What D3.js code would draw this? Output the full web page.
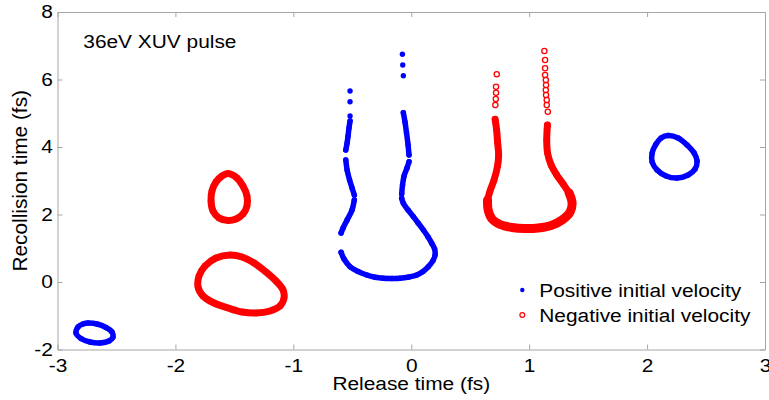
<!DOCTYPE html>
<html>
<head>
<meta charset="utf-8">
<script src="https://cdn.jsdelivr.net/npm/d3@7"></script>
<style>
  body { margin: 0; background: #fff; }
  svg { display: block; font-family: "Liberation Sans", Arial, sans-serif; }
</style>
</head>
<body>
<svg width="769" height="400"></svg>
<script>
// ---- data (release time fs, recollision time fs) ----
const xTicks = [-3, -2, -1, 0, 1, 2, 3];
const yTicks = [-2, 0, 2, 4, 6, 8];

// positive initial velocity (blue dots)
const posLoopLeft = [
    [-2.741, -1.215], [-2.665, -1.244], [-2.589, -1.348], [-2.538, -1.481], [-2.529, -1.630],
    [-2.563, -1.748], [-2.640, -1.807], [-2.724, -1.778], [-2.801, -1.674], [-2.843, -1.511],
    [-2.826, -1.333], [-2.784, -1.244]
];
const posLoopRight = [
    [2.178, 4.341], [2.263, 4.267], [2.339, 4.059], [2.399, 3.822], [2.424, 3.585],
    [2.407, 3.348], [2.348, 3.170], [2.255, 3.081], [2.161, 3.141], [2.085, 3.319],
    [2.043, 3.556], [2.043, 3.822], [2.076, 4.089], [2.119, 4.267]
];
const posU1 = [[-0.519, 4.770], [-0.528, 4.563], [-0.536, 4.326], [-0.544, 4.119], [-0.555, 3.911]];
const posU2 = [[-0.555, 3.615], [-0.544, 3.319], [-0.523, 3.022], [-0.502, 2.785], [-0.483, 2.578]];
const posU3 = [[-0.483, 2.430], [-0.502, 2.133], [-0.544, 1.837], [-0.578, 1.600], [-0.595, 1.452]];
const posU4 = [
    [-0.595, 0.880], [-0.570, 0.681], [-0.519, 0.453], [-0.451, 0.311], [-0.377, 0.207],
    [-0.307, 0.139], [-0.237, 0.109], [-0.163, 0.104], [-0.095, 0.109], [-0.019, 0.148],
    [0.047, 0.207], [0.100, 0.311], [0.145, 0.453], [0.185, 0.637], [0.202, 0.800],
    [0.198, 0.978], [0.174, 1.146], [0.143, 1.333], [0.103, 1.541], [0.058, 1.748],
    [0.018, 1.935], [-0.027, 2.133], [-0.067, 2.332], [-0.081, 2.480]
];
const posU5 = [[-0.081, 2.607], [-0.074, 2.874], [-0.061, 3.141], [-0.036, 3.378], [-0.019, 3.564]];
const posU6 = [[-0.019, 3.763], [-0.027, 4.059], [-0.040, 4.415], [-0.053, 4.741], [-0.067, 5.016]];
const posSparse = [
    [-0.519, 5.659], [-0.519, 5.342], [-0.519, 4.919],
    [-0.067, 6.113], [-0.072, 6.430], [-0.075, 6.747]
];

// negative initial velocity (red open circles)
const negLoopUpper = [
    [-1.554, 3.215], [-1.478, 3.081], [-1.427, 2.844], [-1.393, 2.548], [-1.393, 2.252],
    [-1.427, 2.015], [-1.486, 1.867], [-1.554, 1.822], [-1.630, 1.896], [-1.681, 2.104],
    [-1.698, 2.400], [-1.690, 2.696], [-1.656, 2.963], [-1.605, 3.141]
];
const negLoopLower = [
    [-1.537, 0.800], [-1.435, 0.741], [-1.333, 0.563], [-1.232, 0.296], [-1.147, 0.030],
    [-1.087, -0.237], [-1.079, -0.474], [-1.113, -0.711], [-1.198, -0.859], [-1.316, -0.919],
    [-1.435, -0.889], [-1.554, -0.770], [-1.673, -0.622], [-1.766, -0.415], [-1.808, -0.148],
    [-1.800, 0.178], [-1.749, 0.474], [-1.656, 0.711]
];
const negULeft = [
    [0.711, 4.821], [0.724, 4.504], [0.732, 4.148], [0.741, 3.763], [0.732, 3.437],
    [0.702, 3.022], [0.668, 2.696], [0.647, 2.430]
];
const negUBottom = [
    [0.647, 2.430], [0.652, 2.133], [0.685, 1.867], [0.753, 1.704], [0.855, 1.615],
    [0.965, 1.585], [1.076, 1.600], [1.186, 1.674], [1.279, 1.837], [1.347, 2.074],
    [1.364, 2.341], [1.339, 2.637]
];
const negURight = [
    [1.339, 2.637], [1.288, 2.904], [1.234, 3.170], [1.186, 3.467], [1.156, 3.822],
    [1.149, 4.207], [1.155, 4.652]
];
const negSparse = [
    [0.725, 6.154], [0.719, 5.787], [0.719, 5.609], [0.717, 5.422], [0.713, 5.244],
    [1.158, 5.046], [1.149, 5.244], [1.149, 5.393], [1.143, 5.541], [1.141, 5.689],
    [1.143, 5.837], [1.141, 5.985], [1.135, 6.133], [1.135, 6.332], [1.135, 6.578],
    [1.129, 6.844]
];

const legendLabels = ['Positive initial velocity', 'Negative initial velocity'];

// ---- layout ----
const svg = d3.select('svg');
const plot = { l: 57.5, r: 765, t: 12, b: 349.5 };
const axisColor = '#a6a6a6';
const blue = '#0000ff';
const red = '#ff0000';
const stretch = 1.16; // the original text is a little wider than Arial

const x = d3.scaleLinear().domain([-3, 3]).range([plot.l, plot.r]);
const y = d3.scaleLinear().domain([-2, 8]).range([plot.b, plot.t]);
const plainNumber = d => String(d); // hyphen minus, no decimals, like the original

// box axes, ticks pointing in
function styleAxis(g) {
    g.select('.domain').attr('stroke', axisColor);
    g.selectAll('.tick line').attr('stroke', axisColor);
    g.selectAll('.tick text')
        .attr('fill', '#000')
        .attr('font-size', 18)
        .attr('font-family', '"Liberation Sans", Arial, sans-serif')
        .attr('transform', `scale(${stretch},1)`);
}

svg.append('g')
    .attr('transform', `translate(0,${plot.b})`)
    .call(d3.axisBottom(x).tickValues(xTicks).tickFormat(plainNumber)
        .tickSizeInner(-5).tickSizeOuter(0).tickPadding(10))
    .call(styleAxis);
svg.append('g')
    .attr('transform', `translate(0,${plot.t})`)
    .call(d3.axisTop(x).tickValues(xTicks).tickSizeInner(-5).tickSizeOuter(0).tickFormat(''))
    .call(styleAxis);
svg.append('g')
    .attr('transform', `translate(${plot.l},0)`)
    .call(d3.axisLeft(y).tickValues(yTicks).tickFormat(plainNumber)
        .tickSizeInner(-5).tickSizeOuter(0).tickPadding(4))
    .call(styleAxis);
svg.append('g')
    .attr('transform', `translate(${plot.r},0)`)
    .call(d3.axisRight(y).tickValues(yTicks).tickSizeInner(-5).tickSizeOuter(0).tickFormat(''))
    .call(styleAxis);

// ---- marks ----
const marks = svg.append('g');
const openLine = d3.line().x(d => x(d[0])).y(d => y(d[1])).curve(d3.curveCatmullRom);
const closedLine = d3.line().x(d => x(d[0])).y(d => y(d[1])).curve(d3.curveCatmullRomClosed);

// dense runs of markers merge into a band
const bands = [
    { pts: posLoopLeft, closed: true, color: blue, w: 5.5 },
    { pts: posLoopRight, closed: true, color: blue, w: 5.5 },
    { pts: posU1, closed: false, color: blue, w: 5.5 },
    { pts: posU2, closed: false, color: blue, w: 5.5 },
    { pts: posU3, closed: false, color: blue, w: 5.5 },
    { pts: posU4, closed: false, color: blue, w: 5.5 },
    { pts: posU5, closed: false, color: blue, w: 5.5 },
    { pts: posU6, closed: false, color: blue, w: 5.5 },
    { pts: negLoopUpper, closed: true, color: red, w: 7 },
    { pts: negLoopLower, closed: true, color: red, w: 7 },
    { pts: negULeft, closed: false, color: red, w: 7 },
    { pts: negURight, closed: false, color: red, w: 7 },
    { pts: negUBottom, closed: false, color: red, w: 9 }
];

marks.selectAll('.band')
    .data(bands)
    .enter()
    .append('path')
    .attr('class', 'band')
    .attr('d', d => (d.closed ? closedLine : openLine)(d.pts))
    .attr('fill', 'none')
    .attr('stroke', d => d.color)
    .attr('stroke-width', d => d.w)
    .attr('stroke-linecap', 'round')
    .attr('stroke-linejoin', 'round');

const bluePoints = [posLoopLeft, posLoopRight, posU1, posU2, posU3, posU4, posU5, posU6, posSparse].flat();
const redPoints = [negLoopUpper, negLoopLower, negULeft, negUBottom, negURight, negSparse].flat();

marks.selectAll('.pos')
    .data(bluePoints)
    .enter()
    .append('circle')
    .attr('class', 'pos')
    .attr('cx', d => x(d[0]))
    .attr('cy', d => y(d[1]))
    .attr('r', 2.7)
    .attr('fill', blue);

marks.selectAll('.neg')
    .data(redPoints)
    .enter()
    .append('circle')
    .attr('class', 'neg')
    .attr('cx', d => x(d[0]))
    .attr('cy', d => y(d[1]))
    .attr('r', 2.6)
    .attr('fill', 'none')
    .attr('stroke', red)
    .attr('stroke-width', 1.3);

// ---- texts ----
svg.append('text')
    .attr('transform', `translate(83.3,47.7) scale(${stretch},1)`)
    .attr('font-size', 18)
    .attr('fill', '#000')
    .text('36eV XUV pulse');

svg.append('text')
    .attr('transform', `translate(${(plot.l + plot.r) / 2},390) scale(${stretch},1)`)
    .attr('text-anchor', 'middle')
    .attr('font-size', 18)
    .attr('fill', '#000')
    .text('Release time (fs)');

svg.append('text')
    .attr('transform', `translate(26.5,${(plot.t + plot.b) / 2}) rotate(-90)`)
    .attr('text-anchor', 'middle')
    .attr('font-size', 20.8)
    .attr('fill', '#000')
    .text('Recollision time (fs)');

// legend
const legend = svg.append('g').attr('transform', 'translate(522.3,290)');
const legendRow = legend.selectAll('.row')
    .data(legendLabels)
    .enter()
    .append('g')
    .attr('class', 'row')
    .attr('transform', (d, i) => `translate(0,${i * 25})`);

legendRow.append('circle')
    .attr('r', (d, i) => (i === 0 ? 2.2 : 2.4))
    .attr('fill', (d, i) => (i === 0 ? blue : 'none'))
    .attr('stroke', (d, i) => (i === 0 ? 'none' : red))
    .attr('stroke-width', 1.2);

legendRow.append('text')
    .attr('transform', `translate(17,6.7) scale(${stretch},1)`)
    .attr('font-size', 18)
    .attr('fill', '#000')
    .text(d => d);
</script>
</body>
</html>
